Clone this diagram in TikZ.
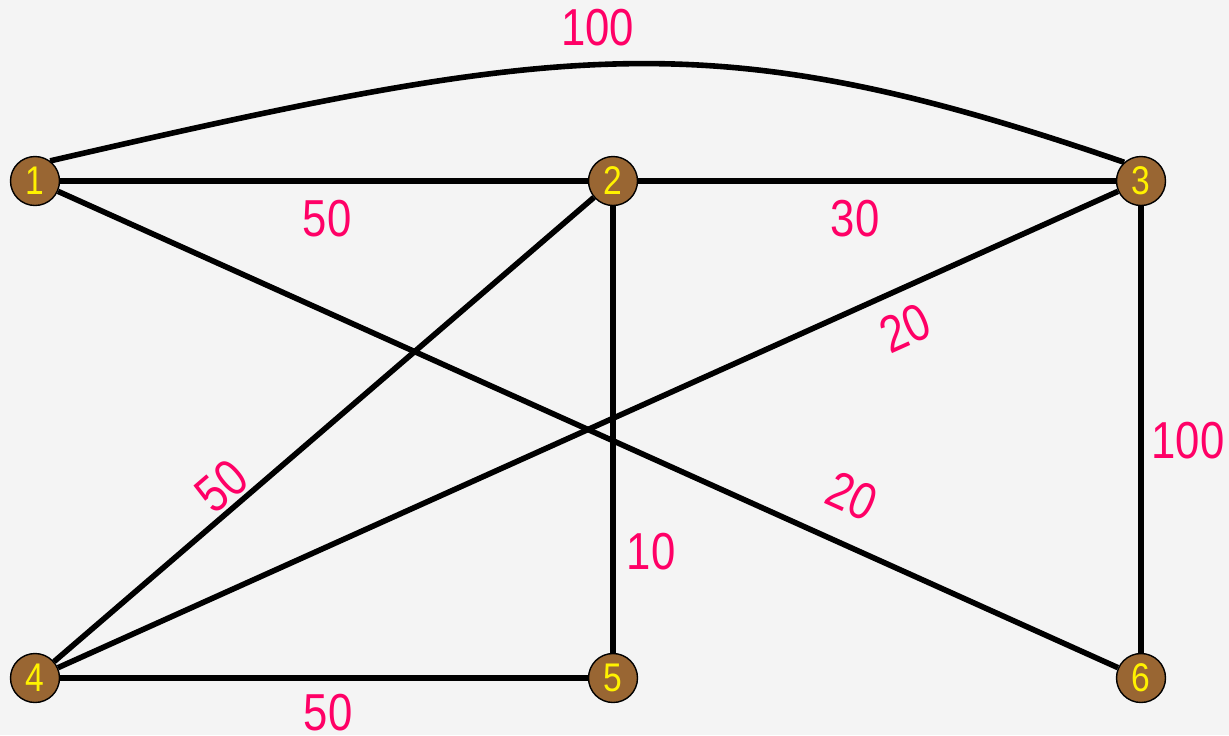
\documentclass[tikz,border=0pt]{standalone}
\usepackage{fontspec}
\setmainfont{Liberation Sans}[FakeStretch=0.84]
\usetikzlibrary{backgrounds}
\definecolor{bgcolor}{HTML}{F4F4F4}
\definecolor{nodebrown}{HTML}{996633}
\definecolor{weightpink}{HTML}{FF0066}
\tikzset{
  vertex/.style={circle,draw=black,line width=.7pt,fill=nodebrown,minimum size=24.5pt,inner sep=0pt,text=yellow,font=\fontsize{20}{22}\selectfont},
  edge/.style={line width=2.8pt,black},
  weight/.style={text=weightpink,inner sep=0pt,font=\fontsize{26}{30}\selectfont}
}
\begin{document}
\begin{tikzpicture}[x=0.5pt,y=-0.5pt]
\useasboundingbox (0,0) rectangle (1229,735);
% vertices
\foreach \n/\x/\y in {1/35/181,2/613/181,3/1141/181,4/35/678,5/613/678,6/1141/678}{\node[vertex] (v\n) at (\x,\y) {\n};}
% edges and weights
\begin{scope}[on background layer]
\fill[bgcolor] (0,0) rectangle (1229,735);
\draw[edge] (v1.53) .. controls +(-13:532) and +(-161:434) .. node[weight,pos=.5,yshift=18pt,xshift=-15pt] (w13) {100} (v3.132);
\draw[edge] (v1) -- node[weight,pos=.506,yshift=-19pt] (w12) {50} (v2);
\draw[edge] (v2) -- node[weight,pos=.454,yshift=-19pt] (w23) {30} (v3);
\draw[edge] (v4) -- node[weight,pos=.508,yshift=-17.5pt] (w45) {50} (v5);
\draw[edge] (v2) -- node[weight,pos=.774,xshift=19pt] (w25) {10} (v5);
\draw[edge] (v3) -- node[weight,pos=.525,xshift=23.5pt] (w36) {100} (v6);
\draw[edge] (v4) -- node[weight,pos=.339,sloped,yshift=12pt] (w24) {50} (v2);
\draw[edge] (v4) -- node[weight,pos=.785,sloped,yshift=-18.7pt] (w34) {20} (v3);
\draw[edge] (v1) -- node[weight,pos=.731,sloped,yshift=23.7pt] (w16) {20} (v6);
\end{scope}
\end{tikzpicture}
\end{document}
